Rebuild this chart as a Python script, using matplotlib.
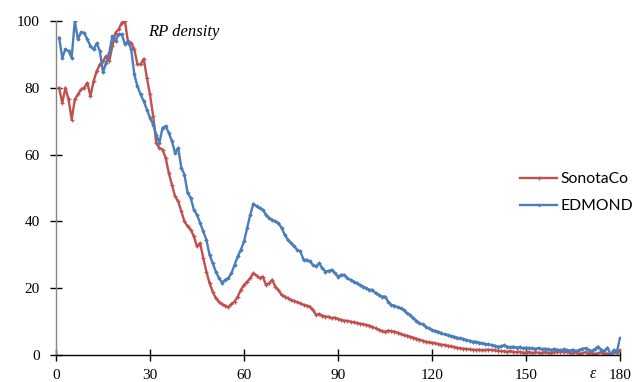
import numpy as np
import matplotlib
matplotlib.use("Agg")
import matplotlib.pyplot as plt

# Elongation angle (degrees), one sample per degree
epsilon = np.arange(1, 181)

sonotaco = [
    80, 75.4, 80, 76.5, 70.5, 76.5, 78, 79.5, 80, 81.5,
    77.5, 82, 85, 87, 88, 89.5, 88, 92.5, 96.5, 97.5,
    99.5, 100, 93.5, 93.5, 91.5, 87, 87, 88.7, 83, 78,
    71.5, 63.5, 62, 61.5, 59, 54.5, 51, 47.5, 46, 43,
    40, 38.5, 37.5, 35.5, 32.5, 33.5, 29, 25, 21.5, 19,
    17, 16, 15.2, 14.8, 14.3, 15.3, 16, 17.5, 19.5, 21,
    22, 23, 24.5, 23.8, 23, 23.5, 21, 21.5, 22.5, 20.5,
    19.5, 18, 17.5, 17, 16.5, 16.2, 15.8, 15.5, 15, 14.8,
    14.5, 13.5, 12, 12.3, 11.8, 11.5, 11.5, 11, 11.2, 10.8,
    10.5, 10.3, 10.2, 10, 9.8, 9.6, 9.4, 9.2, 9, 8.8,
    8.4, 8, 7.6, 7.2, 7, 7.3, 7.1, 7, 6.7, 6.3,
    6, 5.8, 5.5, 5.2, 4.9, 4.6, 4.3, 4, 3.8, 3.7,
    3.5, 3.3, 3.1, 3, 2.8, 2.6, 2.4, 2.2, 2, 1.9,
    1.8, 1.7, 1.6, 1.5, 1.6, 1.4, 1.5, 1.6, 1.5, 1.4,
    1.3, 1.2, 1.1, 1, 1.2, 0.9, 0.8, 1, 0.7, 0.7,
    0.9, 0.6, 0.8, 0.7, 0.6, 0.9, 0.7, 0.6, 0.8, 0.9,
    1, 0.8, 1, 0.7, 0.5, 0.8, 0.4, 0.5, 0.9, 0.4,
    0.6, 0.3, 0.5, 0.8, 0.3, 0.4, 0.3, 0.9, 0.6, 1.5,
]

edmond = [
    95, 89, 91.5, 91, 89, 100, 94.5, 96.6, 96.5, 94.5,
    92.5, 91.5, 93.3, 91, 84.6, 87.5, 90.5, 95.5, 94, 96,
    96, 93, 94, 91.5, 84, 80.4, 78, 76, 73.5, 71,
    69, 66, 63.5, 68, 68.5, 66.5, 64, 60.5, 62, 56,
    54, 48.5, 47, 43.5, 42, 39.5, 37, 34.5, 30, 27.5,
    25, 23, 21.7, 22.5, 23, 24.5, 27, 29.5, 31.5, 34,
    38, 42, 45.3, 44.5, 44, 43.5, 42, 41, 40.5, 40,
    39.5, 38, 36, 34.5, 33.5, 32.5, 31.5, 31, 28.5, 28.5,
    28, 27, 26.5, 27.5, 26, 25, 25.2, 25.5, 24.5, 23.5,
    24, 24, 23, 22.5, 22, 21.5, 21, 20.5, 20, 19.5,
    19.5, 18.5, 18, 17.5, 17.5, 16, 15, 14.8, 14.3, 14,
    13.5, 12.5, 12, 11, 10.3, 9.5, 9.2, 8.5, 8, 7.5,
    7.2, 7, 6.5, 6.2, 6, 5.7, 5.5, 5.2, 5, 4.8,
    4.5, 4.3, 4, 4, 3.7, 3.5, 3.3, 3.2, 3, 2.8,
    2.5, 2.6, 2.9, 2.5, 2.3, 2.5, 2.2, 2.4, 2, 2.2,
    2.1, 2, 1.8, 2.1, 1.7, 1.9, 1.7, 1.5, 1.8, 1.6,
    1.4, 1.7, 1.5, 1.3, 1.6, 1.2, 1.5, 1.9, 2, 1.4,
    1.2, 1.8, 2.5, 1.6, 1.2, 2.2, 0.2, 1.5, 1.0, 5,
]

x_ticks = [0, 30, 60, 90, 120, 150, 180]
y_ticks = [0, 20, 40, 60, 80, 100]

RED = "#C0504D"
BLUE = "#4A7EBB"
SERIF = "Liberation Serif"

fig = plt.figure(figsize=(6.32, 3.82), dpi=100)
ax = fig.add_axes([56 / 632, 27 / 382, 564 / 632, 334 / 382])

ax.plot(epsilon, sonotaco, color=RED, lw=1.7, marker="+", ms=3.5, mew=0.9,
        label="SonotaCo")
ax.plot(epsilon, edmond, color=BLUE, lw=1.7, marker="D", ms=1.8, mew=0.5,
        label="EDMOND")

ax.set_xlim(0, 180)
ax.set_ylim(0, 100)
ax.set_xticks(x_ticks)
ax.set_yticks(y_ticks)
ax.set_xticklabels([str(t) for t in x_ticks], fontfamily=SERIF, fontsize=11)
ax.set_yticklabels([str(t) for t in y_ticks], fontfamily=SERIF, fontsize=11)

for side in ("top", "right"):
    ax.spines[side].set_visible(False)
ax.spines["left"].set_color("#868686")
ax.spines["bottom"].set_color("#000000")
ax.spines["left"].set_linewidth(1.0)
ax.spines["bottom"].set_linewidth(1.0)
ax.tick_params(axis="y", direction="inout", length=8.6, width=1.0,
               color="#000000", pad=7.4)
ax.tick_params(axis="x", direction="inout", length=8.6, width=1.0,
               color="#000000", pad=5.5)

ax.text(29.5, 96.7, "RP density", fontfamily=SERIF, style="italic",
        fontsize=12, ha="left", va="center")
ax.text(171.2, -5.7, "\u03b5", fontfamily=SERIF, style="italic",
        fontsize=11.5, ha="center", va="center", clip_on=False)

leg = ax.legend(loc="upper left", bbox_to_anchor=(458 / 564, (355 - 166) / 334),
                frameon=False, prop={"family": "Lato", "size": 11.3},
                handlelength=2.35, handletextpad=0.2, labelspacing=0.82,
                markerscale=0.8, borderaxespad=0)

fig.savefig("out.png", dpi=100)
